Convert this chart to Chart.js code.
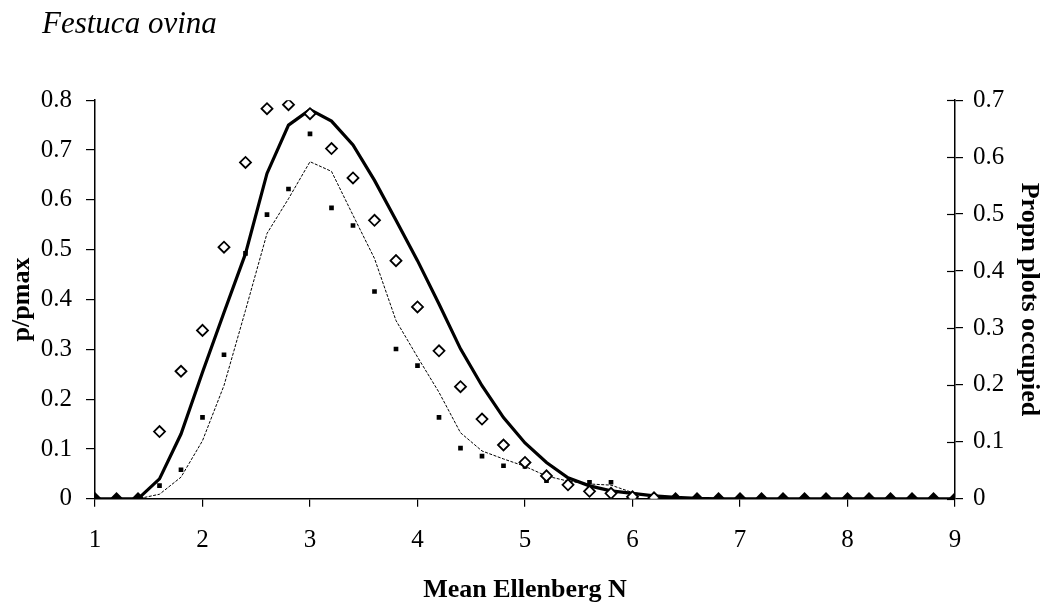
<!DOCTYPE html>
<html><head><meta charset="utf-8">
<script src="https://cdn.jsdelivr.net/npm/chart.js@4/dist/chart.umd.min.js"></script>
<style>html,body{margin:0;padding:0;background:#fff}#wrap{width:1051px;height:607px}</style>
</head><body><div id="wrap"><canvas id="c"></canvas></div>
<script>
const xValues = [1,1.2,1.4,1.6,1.8,2,2.2,2.4,2.6,2.8,3,3.2,3.4,3.6,3.8,4,4.2,4.4,4.6,4.8,5,5.2,5.4,5.6,5.8,6,6.2,6.4,6.6,6.8,7,7.2,7.4,7.6,7.8,8,8.2,8.4,8.6,8.8,9];
// p/pmax fitted (thick line, left axis)
const fittedP = [0,0,0,0.040,0.130,0.254,0.374,0.492,0.653,0.750,0.781,0.758,0.710,0.639,0.559,0.478,0.391,0.301,0.227,0.163,0.112,0.073,0.042,0.026,0.016,0.011,0.006,0.003,0.001,0,0,0,0,0,0,0,0,0,0,0,0];
// p/pmax observed (open diamonds, left axis)
const observedP = [0,0,0,0.135,0.256,0.338,0.505,0.675,0.783,0.791,0.773,0.703,0.644,0.559,0.478,0.385,0.297,0.225,0.160,0.108,0.073,0.046,0.028,0.015,0.011,0.004,0.002,0,0,0,0,0,0,0,0,0,0,0,0,0,0];
// Propn plots occupied fitted (thin line, right axis)
const fittedPropn = [0,0,0,0.008,0.038,0.102,0.199,0.331,0.466,0.527,0.592,0.575,0.498,0.422,0.313,0.249,0.187,0.116,0.084,0.070,0.057,0.040,0.031,0.026,0.024,0.011,0.005,0.003,0.001,0,0,0,0,0,0,0,0,0,0,0,0];
// Propn plots occupied observed (filled squares, right axis)
const observedPropn = [0,0,0,0.023,0.051,0.143,0.253,0.431,0.499,0.544,0.641,0.511,0.480,0.364,0.263,0.234,0.143,0.089,0.075,0.058,0.057,0.032,0.027,0.029,0.029,0.006,0.002,0,0,0,0,0,0,0,0,0,0,0,0,0,0];
const xTicks = [1,2,3,4,5,6,7,8,9];
const leftTicks = [0,0.1,0.2,0.3,0.4,0.5,0.6,0.7,0.8];
const rightTicks = [0,0.1,0.2,0.3,0.4,0.5,0.6,0.7];

const pts = arr => xValues.map((x,i)=>({x:x,y:arr[i]}));
const FONT = "'Liberation Serif','Times New Roman',serif";

const innerTicks = {
  id:'innerTicks',
  afterLayout(chart){
    if (chart.titleBlock) { chart.titleBlock.left += 36; }
  },
  afterDraw(chart){
    const c = chart.ctx, s = chart.scales.y2;
    c.save(); c.strokeStyle='#000'; c.lineWidth=1.2;
    s.ticks.forEach(t=>{
      const y = Math.round(s.getPixelForValue(t.value))+0.5;
      c.beginPath(); c.moveTo(s.left-8,y); c.lineTo(s.left,y); c.stroke();
    });
    c.restore();
  }
};

new Chart(document.getElementById('c'), {
  type:'line',
  data:{datasets:[
    {label:'Propn fitted', data:pts(fittedPropn), yAxisID:'y2', borderColor:'#000', borderWidth:1, borderDash:[3,1.5], pointRadius:0, fill:false, order:4},
    {label:'p/pmax fitted', data:pts(fittedP), yAxisID:'y', borderColor:'#000', borderWidth:3.2, pointRadius:0, fill:false, order:3},
    {label:'Propn observed', data:pts(observedPropn), yAxisID:'y2', showLine:false, pointStyle:'rect', pointRadius:3.3, pointBackgroundColor:'#000', pointBorderColor:'#000', borderWidth:0, order:2},
    {label:'p/pmax observed', data:pts(observedP), yAxisID:'y', showLine:false, pointStyle:'rectRot', pointRadius:5.5, pointBorderWidth:1.8,
      pointBackgroundColor: ctx => (ctx.raw && ctx.raw.y===0) ? '#000' : '#fff', pointBorderColor:'#000', order:1}
  ]},
  options:{
    responsive:true, maintainAspectRatio:false, animation:false,
    layout:{padding:{left:6,right:7,top:0,bottom:1}},
    plugins:{
      legend:{display:false}, tooltip:{enabled:false},
      title:{display:true, text:'Festuca ovina', align:'start', color:'#000',
        font:{family:FONT, size:31, style:'italic', weight:'normal'}, padding:{top:6,bottom:57}}
    },
    scales:{
      x:{type:'linear', min:1, max:9,
        afterBuildTicks: s => { s.ticks = xTicks.map(v=>({value:v})); },
        grid:{drawOnChartArea:false, drawTicks:true, tickLength:8, color:'#000', lineWidth:1.2},
        border:{color:'#000', width:1.5},
        ticks:{color:'#000', font:{family:FONT, size:25}, padding:19, maxRotation:0},
        title:{display:true, text:'Mean Ellenberg N', color:'#000', font:{family:FONT, size:26, weight:'bold'}, padding:{top:0,bottom:0}}
      },
      y:{position:'left', min:0, max:0.8,
        afterBuildTicks: s => { s.ticks = leftTicks.map(v=>({value:v})); },
        afterFit: s => { s.width = 89; },
        grid:{drawOnChartArea:false, drawTicks:true, tickLength:9, color:'#000', lineWidth:1.2},
        border:{color:'#000', width:1.5},
        ticks:{color:'#000', font:{family:FONT, size:25}, padding:14, callback:v=>String(v)},
        title:{display:true, text:'p/pmax', color:'#000', font:{family:FONT, size:26, weight:'bold'}, padding:{top:1,bottom:2}}
      },
      y2:{position:'right', min:0, max:0.7,
        afterBuildTicks: s => { s.ticks = rightTicks.map(v=>({value:v})); },
        afterFit: s => { s.width = 89; },
        grid:{drawOnChartArea:false, drawTicks:true, tickLength:8, color:'#000', lineWidth:1.2},
        border:{color:'#000', width:1.5},
        ticks:{color:'#000', font:{family:FONT, size:25}, padding:10, callback:v=>String(v)},
        title:{display:true, text:'Propn plots occupied', color:'#000', font:{family:FONT, size:26, weight:'bold'}, padding:{top:0,bottom:0}}
      }
    }
  },
  plugins:[innerTicks]
});
</script></body></html>
